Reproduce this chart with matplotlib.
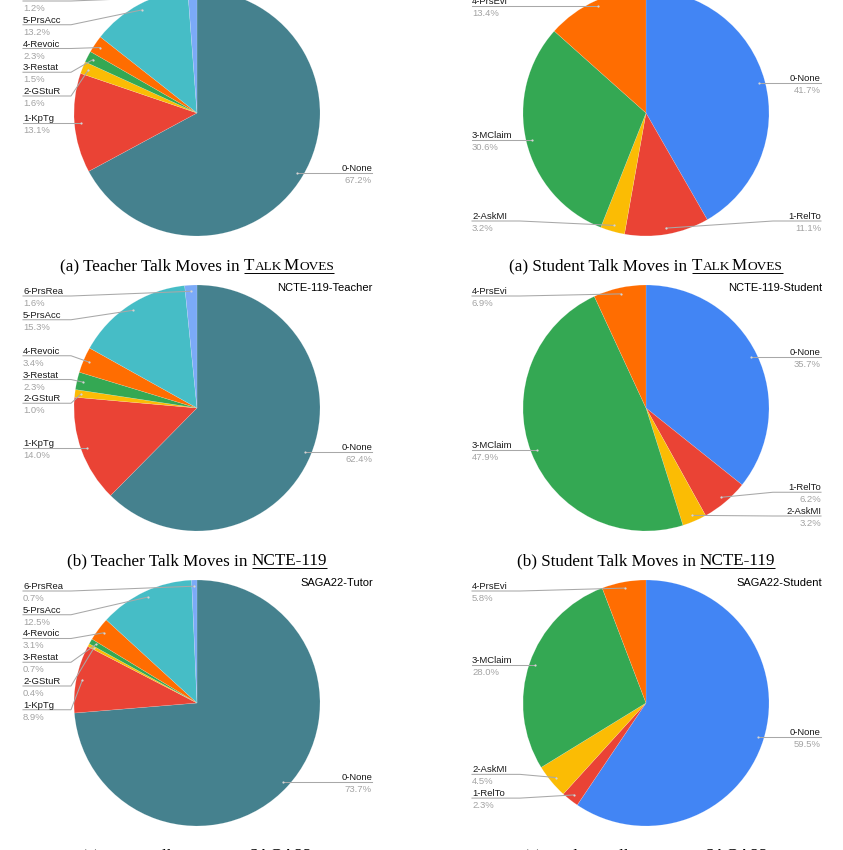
import numpy as np
import matplotlib
matplotlib.use("Agg")
import matplotlib.pyplot as plt

W, H = 843, 850
R = 123
SANS = "Liberation Sans"
SERIF = "Liberation Serif"

# --- data (percentages) ---
teacher_labels = ["0-None", "1-KpTg", "2-GStuR", "3-Restat", "4-Revoic", "5-PrsAcc", "6-PrsRea"]
student_labels = ["0-None", "1-RelTo", "2-AskMI", "3-MClaim", "4-PrsEvi"]

talkmoves_teacher = [67.2, 13.1, 1.6, 1.5, 2.3, 13.2, 1.2]
talkmoves_student = [41.7, 11.1, 3.2, 30.6, 13.4]
ncte_teacher = [62.4, 14.0, 1.0, 2.3, 3.4, 15.3, 1.6]
ncte_student = [35.7, 6.2, 3.2, 47.9, 6.9]
saga_tutor = [73.7, 8.9, 0.4, 0.7, 3.1, 12.5, 0.7]
saga_student = [59.5, 2.3, 4.5, 28.0, 5.8]

teacher_colors = ["#45818e", "#ea4335", "#fbbc04", "#34a853", "#ff6d01", "#46bdc6", "#7baaf7"]
student_colors = ["#4285f4", "#ea4335", "#fbbc04", "#34a853", "#ff6d01"]


def Y(py):
    # image rows (top down) -> data y (bottom up)
    return H - py


def spread(want, lo, hi, gap):
    """push label rows apart so they keep at least `gap` px between them"""
    order = np.argsort(want)
    clusters = []
    for i in order:
        clusters.append([[i], want[i]])
        while True:
            c = clusters[-1]
            n = len(c[0])
            start = np.mean([want[j] for j in c[0]]) - (n - 1) * gap / 2
            start = min(max(start, lo), hi - (n - 1) * gap)
            c[1] = start
            if len(clusters) > 1:
                p = clusters[-2]
                pend = p[1] + (len(p[0]) - 1) * gap
                if start < pend + gap:
                    p[0] += c[0]
                    clusters.pop()
                    continue
            break
    out = {}
    for idx, start in clusters:
        for k, j in enumerate(idx):
            out[j] = start + k * gap
    return [out[i] for i in range(len(want))]


def draw_pie(ax, cx, cy, values, labels, colors, title):
    wedges, _ = ax.pie(values, colors=colors, center=(cx, Y(cy)), radius=R,
                       startangle=90, counterclock=False,
                       wedgeprops=dict(linewidth=0.3, edgecolor=(1, 1, 1, 0.3)))
    dots = []
    for w in wedges:
        a = np.deg2rad((w.theta1 + w.theta2) / 2)
        dots.append((cx + np.cos(a) * 0.95 * R, cy - np.sin(a) * 0.95 * R, np.cos(a) < 0))

    for left in (True, False):
        idx = [i for i, d in enumerate(dots) if d[2] == left]
        if not idx:
            continue
        ys = spread([dots[i][1] for i in idx], cy - 112, cy + 108, 23.75)
        for i, ly in zip(idx, ys):
            dx, dy, _ = dots[i]
            if left:
                tx, ha = cx - 174, "left"
                xs, yy = [tx, tx + 48, dx], [ly, ly, dy]
            else:
                tx, ha = cx + 175, "right"
                xs, yy = [dx, tx - 48, tx], [dy, ly, ly]
            ax.plot(xs, [Y(v) for v in yy], color="#a8a8a8", lw=0.75, zorder=3)
            ax.plot(dx, Y(dy), "o", ms=1.6, color="#d5d5d5", mec="none", zorder=4)
            ax.text(tx, Y(ly - 2), labels[i], ha=ha, va="baseline",
                    fontsize=6.8, family=SANS, color="#1a1a1a")
            ax.text(tx, Y(ly + 10), f"{values[i]:.1f}%", ha=ha, va="baseline",
                    fontsize=6.8, family=SANS, color="#a3a3a3")

    ax.text(cx + 176, Y(cy - 117), title, ha="right", va="baseline",
            fontsize=8.0, family=SANS, color="black")


def caption(ax, cx, base, prefix, word):
    r = ax.figure.canvas.get_renderer()
    fs = 12.3
    arts = [ax.text(0, Y(base), prefix, fontsize=fs, family=SERIF, va="baseline")]
    for chunk, small in word:
        arts.append(ax.text(0, Y(base), chunk, fontsize=fs * 0.78 if small else fs,
                            family=SERIF, va="baseline"))
    widths = [a.get_window_extent(r).width for a in arts]
    space = fs * 100 / 72 * 0.25
    pad = 1.0 if len(word) > 1 else 0.0
    total = sum(widths) + space + pad * (len(word) - 1)
    x = cx - total / 2
    arts[0].set_x(x)
    x += widths[0] + space
    x_ul = x
    for a, w in zip(arts[1:], widths[1:]):
        a.set_x(x)
        x += w + pad
    x -= pad
    ax.plot([x_ul, x], [Y(base + 2.5)] * 2, color="black", lw=0.7, solid_capstyle="butt")


fig = plt.figure(figsize=(W / 100, H / 100), dpi=100)
fig.patch.set_facecolor("white")
ax = fig.add_axes([0, 0, 1, 1])

left_x, right_x = 197, 646
rows = [113, 408, 703]

draw_pie(ax, left_x, rows[0], talkmoves_teacher, teacher_labels, teacher_colors, "TalkMoves-Teacher")
draw_pie(ax, right_x, rows[0], talkmoves_student, student_labels, student_colors, "TalkMoves-Student")
draw_pie(ax, left_x, rows[1], ncte_teacher, teacher_labels, teacher_colors, "NCTE-119-Teacher")
draw_pie(ax, right_x, rows[1], ncte_student, student_labels, student_colors, "NCTE-119-Student")
draw_pie(ax, left_x, rows[2], saga_tutor, teacher_labels, teacher_colors, "SAGA22-Tutor")
draw_pie(ax, right_x, rows[2], saga_student, student_labels, student_colors, "SAGA22-Student")

ax.set_xlim(0, W)
ax.set_ylim(0, H)
ax.set_position([0, 0, 1, 1])
ax.axis("off")

talkmoves_word = [("T", False), ("ALK", True), ("M", False), ("OVES", True)]
caption(ax, left_x, rows[0] + 157, "(a) Teacher Talk Moves in", talkmoves_word)
caption(ax, right_x, rows[0] + 157, "(a) Student Talk Moves in", talkmoves_word)
caption(ax, left_x, rows[1] + 157, "(b) Teacher Talk Moves in", [("NCTE-119", False)])
caption(ax, right_x, rows[1] + 157, "(b) Student Talk Moves in", [("NCTE-119", False)])
caption(ax, left_x, rows[2] + 157, "(c) Tutor Talk Moves in", [("SAGA22", False)])
caption(ax, right_x, rows[2] + 157, "(c) Student Talk Moves in", [("SAGA22", False)])

fig.savefig("out.png", dpi=100, facecolor="white")
